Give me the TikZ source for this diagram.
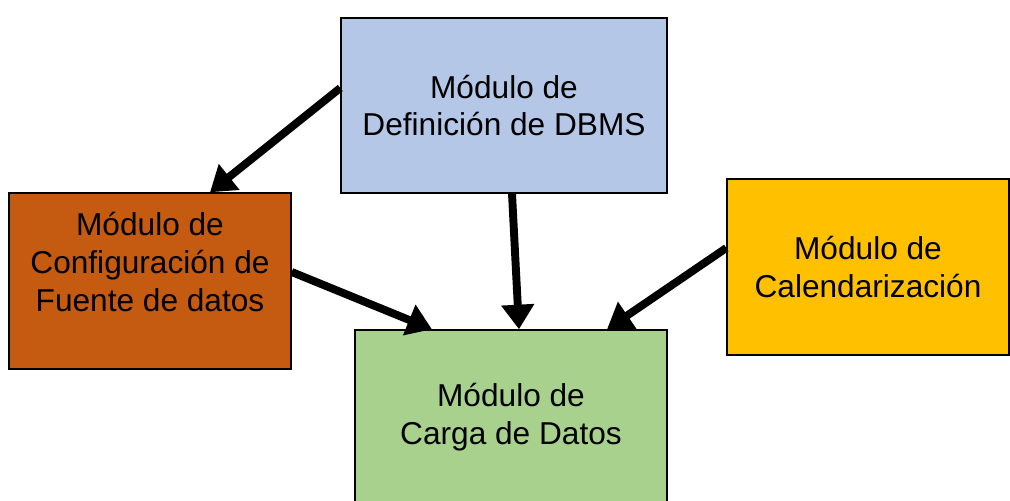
\documentclass[tikz,border=0pt]{standalone}
\usepackage{fontspec}
\setmainfont{Liberation Sans}
\usetikzlibrary{arrows.meta}

\definecolor{azulmod}{HTML}{B4C7E7}
\definecolor{naranjamod}{HTML}{C55A11}
\definecolor{oromod}{HTML}{FFC000}
\definecolor{verdemod}{HTML}{A9D18E}

\begin{document}
\begin{tikzpicture}[
  modulo/.style={draw=black, line width=0.8pt, align=center, inner sep=0pt,
    font=\fontsize{18pt}{21.5pt}\selectfont},
  flecha/.style={line width=4.5pt, -{Triangle[length=14pt,width=18pt]}}
]
% fix the page size
\useasboundingbox (0,0) rectangle (20.2,10.02);

% the four modules
\node[modulo, fill=azulmod, minimum width=6.52cm, minimum height=3.5cm] (dbms) at (10.08,7.91)
  {Módulo de\\Definición de DBMS};
\node[modulo, fill=naranjamod, minimum width=5.64cm, minimum height=3.52cm] (fuente) at (3.0,4.4)
  {Módulo de\\Configuración de\\Fuente de datos\\ \mbox{}};
\node[modulo, fill=oromod, minimum width=5.64cm, minimum height=3.52cm] (cal) at (17.36,4.68)
  {Módulo de\\Calendarización};
\node[modulo, fill=verdemod, minimum width=6.24cm, minimum height=3.5cm] (carga) at (10.22,1.67)
  {Módulo de\\Carga de Datos};

% connectors
\draw[flecha] ([yshift=0.35cm]dbms.west) -- ([xshift=1.2cm]fuente.north);
\draw[flecha] ([xshift=0.16cm]dbms.south) -- ([xshift=0.16cm]carga.north);
\draw[flecha] ([yshift=0.18cm]fuente.east) -- ([xshift=-1.58cm]carga.north);
\draw[flecha] ([yshift=0.38cm]cal.west) -- ([xshift=1.92cm]carga.north);

\end{tikzpicture}
\end{document}
